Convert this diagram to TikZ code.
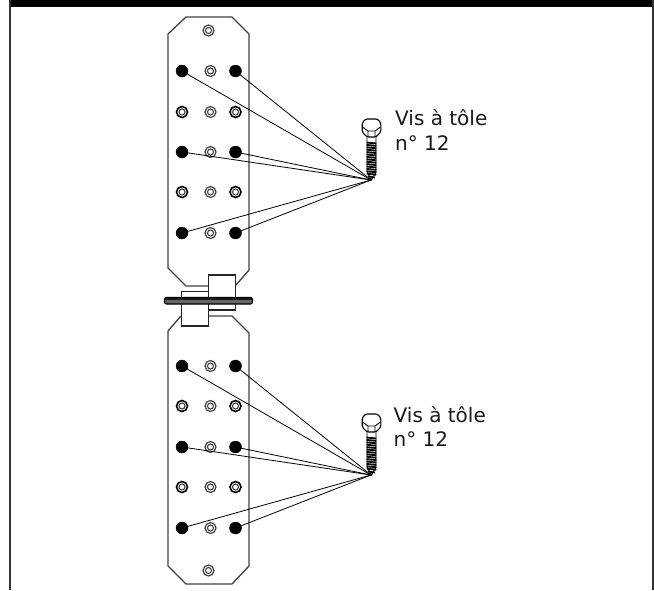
\documentclass[tikz,border=0pt]{standalone}
\usepackage{fontspec}
\setmainfont{DejaVu Sans}
\tikzset{x=1pt,y=-1pt,
 plate/.style={draw=black!75,line width=1.3pt,line join=miter},
 framel/.style={draw=black!80,line width=1.6pt},
 solid hole/.style={circle,fill=black,draw=black,inner sep=0pt,minimum size=12pt},
 ringhole/.style={circle,draw=black!75,line width=1.2pt,fill=white,inner sep=0pt,minimum size=11pt},
 ringdark/.style={circle,draw=black,line width=1.6pt,fill=white,inner sep=0pt,minimum size=11pt},
 wire/.style={draw=black,line width=.8pt},
 blockbox/.style={draw=black!85,line width=1.1pt,fill=white},
 lbl/.style={anchor=base west,font=\fontsize{20}{24.5}\selectfont,align=left,inner sep=0pt,text=black!90}}
\newcommand{\myring}[3]{\node[#1] at (#2,#3) {}; \fill[white,draw=black!80,line width=1pt] (#2,#3) circle (3pt);}
\newcommand{\myscrew}[2]{%
 \begin{scope}[shift={(#1,#2)}]
 \draw[draw=black,line width=.9pt,fill=white] (-4.5,-44) -- (4.5,-44) -- (4.5,-8) -- (0,0) -- (-4.5,-8) -- cycle;
 \foreach \k in {0,...,13}{\draw[black,line width=1.8pt] (-4.8,-37.5+2.4*\k) -- (4.8,-36.5+2.4*\k);}
 \draw[black,line width=1.7pt] (-3.5,-3.5) -- (3.5,-2.5);
 \draw[draw=black,line width=1.1pt,fill=white,rounded corners=1.5pt] (-9.3,-57) -- (-6,-61) -- (6,-61) -- (9.3,-57) -- (9.3,-48) -- (4.5,-43) -- (-4.5,-43) -- (-9.3,-48) -- cycle;
 \draw[black,line width=.9pt] (-9,-53) -- (-3.5,-49) -- (3.5,-49) -- (9,-53) (-3.5,-49) -- (-3.5,-43.5) (3.5,-49) -- (3.5,-43.5);
 \end{scope}}
\begin{document}
\begin{tikzpicture}
\useasboundingbox (0,0) rectangle (654,590);
\fill[black] (9,0) rectangle (654,6.5);
\draw[framel] (9.7,0) -- (9.7,590);
\draw[framel] (652.7,0) -- (652.7,590);
% upper plate
\draw[plate] (208,286) -- (186,286) -- (168,268) -- (168,34) -- (186,17) -- (232,17) -- (249,34) -- (249,270) -- (236,285);
% lower plate
\draw[plate] (181,316) -- (168,331) -- (168,566) -- (186,584) -- (232,584) -- (249,566) -- (249,333) -- (232,316) -- (209,316);
% coupling
\draw[blockbox] (208.5,275) rectangle (235.5,310);
\draw[blockbox] (181.5,291.7) rectangle (208.5,326);
\draw[black,line width=1.2pt,rounded corners=2pt,fill=black!60] (164.5,297.5) rectangle (252.5,304);
\draw[black!90,line width=1.4pt] (165,299) -- (252,299);
% holes
\foreach \n/\px/\py in {ua/182/71,ub/235.5/71,uc/182/152,ud/235.5/152,ue/182/233,uf/235.5/233,
   la/182/366,lb/235.5/366,lc/182/447,ld/235.5/447,le/182/528,lf/235.5/528}
  {\node[solid hole] (\n) at (\px,\py) {};}
\foreach \px/\py in {208.5/30.5,210.5/71,210.5/112,210.5/152,210.5/192,210.5/233,210.5/366,210.5/406,210.5/447,210.5/487,210.5/528,208.5/570.5}
  {\myring{ringhole}{\px}{\py}}
\foreach \px/\py in {182/112,235.5/112,182/192,235.5/192,182/406,235.5/406,182/487,235.5/487}
  {\myring{ringdark}{\px}{\py}}
\myscrew{371.5}{180}
\myscrew{371.5}{475}
\coordinate (t1) at (371,180);
\coordinate (t2) at (371,475);
\foreach \n in {ua,ub,uc,ud,ue,uf}{\draw[wire] (\n.center) -- (t1);}
\foreach \n in {la,lb,lc,ld,le,lf}{\draw[wire] (\n.center) -- (t2);}
\node[lbl] (l1) at (395,150) {Vis à tôle\\n° 12};
\node[lbl] (l2) at (393.5,446.7) {Vis à tôle\\n° 12};
\end{tikzpicture}
\end{document}
